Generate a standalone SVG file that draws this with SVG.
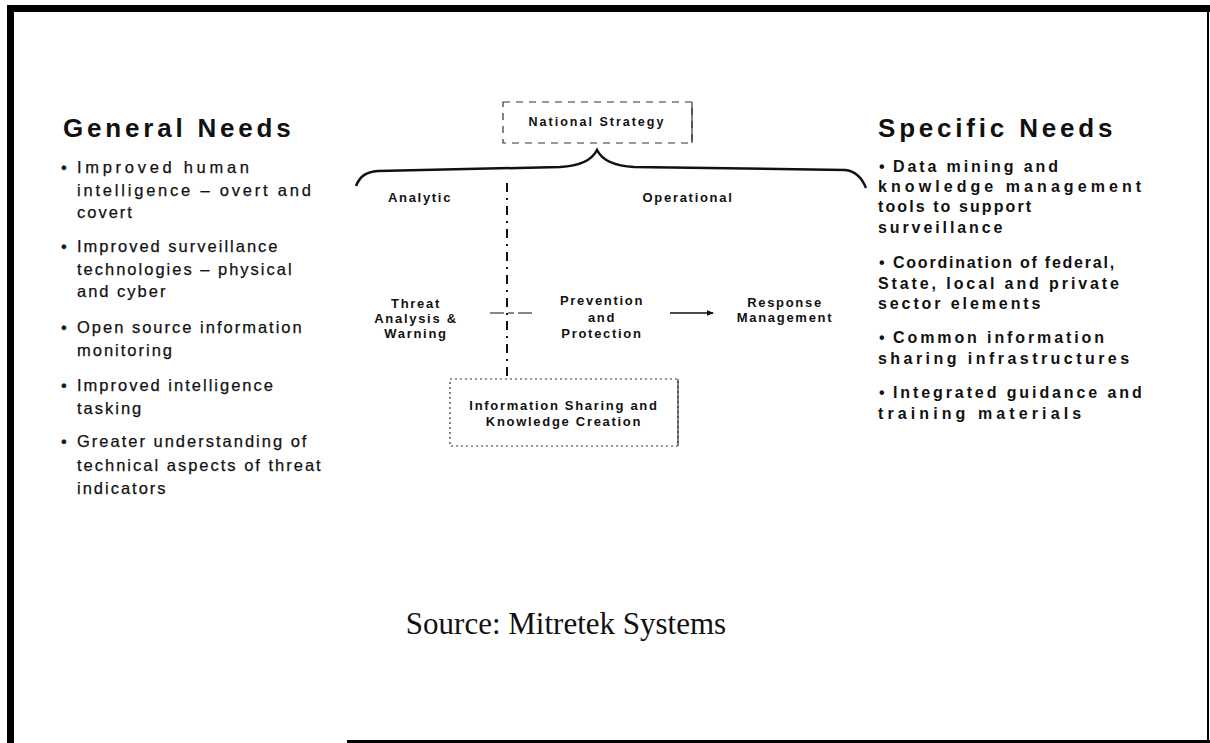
<svg xmlns="http://www.w3.org/2000/svg" width="1210" height="743" viewBox="0 0 1210 743">
  <style>
    .head { font-family: "Liberation Sans", Arial, sans-serif; font-weight: bold; font-size: 26px; letter-spacing: 3.8px; fill: #111; }
    .gen { font-family: "Liberation Sans", Arial, sans-serif; font-size: 16.5px; letter-spacing: 2px; fill: #111; stroke: #111; stroke-width: 0.25; }
    .spec { font-family: "Liberation Sans", Arial, sans-serif; font-weight: bold; font-size: 16px; letter-spacing: 2.9px; fill: #111; }
    .lbl { font-family: "Liberation Sans", Arial, sans-serif; font-weight: bold; font-size: 13px; letter-spacing: 1.7px; fill: #111; text-anchor: middle; }
    .src { font-family: "Liberation Serif", "Times New Roman", serif; font-size: 31px; fill: #111; text-anchor: middle; }
    .box { fill: none; stroke: #333; stroke-width: 1.2; }
    .conn { fill: none; stroke: #111; }
  </style>
  <defs>
    <marker id="arrow" viewBox="0 0 6 6" refX="5" refY="3" markerWidth="5" markerHeight="5" orient="auto">
      <path d="M0,0.8 L6,3 L0,5.2 z" fill="#111"/>
    </marker>
  </defs>

  <rect width="1210" height="743" fill="#fff"/>

  <!-- page frame -->
  <g id="frame" fill="#000">
    <rect x="7" y="5" width="7" height="738"/>
    <rect x="7" y="5" width="1203" height="7"/>
    <rect x="1207" y="12" width="2" height="731"/>
    <rect x="347" y="740" width="863" height="3"/>
  </g>

  <!-- left column -->
  <g id="general-needs">
    <text class="head" x="63" y="137">General Needs</text>
    <text class="gen" x="61" y="173">•</text>
    <text class="gen" x="77" y="173" textLength="174" lengthAdjust="spacing">Improved human</text>
    <text class="gen" x="77" y="196" textLength="236" lengthAdjust="spacing">intelligence – overt and</text>
    <text class="gen" x="77" y="218">covert</text>
    <text class="gen" x="61" y="252">•</text>
    <text class="gen" x="77" y="252">Improved surveillance</text>
    <text class="gen" x="77" y="275">technologies – physical</text>
    <text class="gen" x="77" y="297">and cyber</text>
    <text class="gen" x="61" y="333">•</text>
    <text class="gen" x="77" y="333">Open source information</text>
    <text class="gen" x="77" y="356">monitoring</text>
    <text class="gen" x="61" y="391">•</text>
    <text class="gen" x="77" y="391">Improved intelligence</text>
    <text class="gen" x="77" y="414">tasking</text>
    <text class="gen" x="61" y="447">•</text>
    <text class="gen" x="77" y="447">Greater understanding of</text>
    <text class="gen" x="77" y="471">technical aspects of threat</text>
    <text class="gen" x="77" y="494">indicators</text>
  </g>

  <!-- right column -->
  <g id="specific-needs">
    <text class="head" x="878" y="137">Specific Needs</text>
    <text class="spec" x="879" y="172">•</text>
    <text class="spec" x="893" y="172">Data mining and</text>
    <text class="spec" x="878" y="192" textLength="266" lengthAdjust="spacing">knowledge management</text>
    <text class="spec" x="878" y="212" textLength="156" lengthAdjust="spacing">tools to support</text>
    <text class="spec" x="878" y="233">surveillance</text>
    <text class="spec" x="879" y="268">•</text>
    <text class="spec" x="893" y="268" textLength="224" lengthAdjust="spacing">Coordination of federal,</text>
    <text class="spec" x="878" y="289">State, local and private</text>
    <text class="spec" x="878" y="309">sector elements</text>
    <text class="spec" x="879" y="343">•</text>
    <text class="spec" x="893" y="343">Common information</text>
    <text class="spec" x="878" y="364" textLength="254" lengthAdjust="spacing">sharing infrastructures</text>
    <text class="spec" x="879" y="398">•</text>
    <text class="spec" x="893" y="398">Integrated guidance and</text>
    <text class="spec" x="878" y="419" textLength="206" lengthAdjust="spacing">training materials</text>
  </g>

  <!-- centre diagram nodes -->
  <g id="national-strategy">
    <rect class="box" x="503" y="102" width="189" height="41" stroke-dasharray="7 6"/>
    <line x1="692" y1="102" x2="692" y2="143" stroke="#333" stroke-width="1.2"/>
    <text class="lbl" x="597" y="126" style="font-size:12.5px;letter-spacing:2px">National Strategy</text>
  </g>
  <g id="analytic">
    <text class="lbl" x="420" y="202">Analytic</text>
  </g>
  <g id="operational">
    <text class="lbl" x="688" y="202">Operational</text>
  </g>
  <g id="threat-analysis">
    <text class="lbl" x="416" y="308">Threat</text>
    <text class="lbl" x="416" y="323">Analysis &amp;</text>
    <text class="lbl" x="416" y="338">Warning</text>
  </g>
  <g id="prevention">
    <text class="lbl" x="602" y="305">Prevention</text>
    <text class="lbl" x="602" y="322">and</text>
    <text class="lbl" x="602" y="338">Protection</text>
  </g>
  <g id="response">
    <text class="lbl" x="785" y="307">Response</text>
    <text class="lbl" x="785" y="322">Management</text>
  </g>
  <g id="information-sharing">
    <rect class="box" x="450" y="379" width="228" height="67" stroke-dasharray="2 3" stroke="#666"/>
    <line x1="678" y1="379" x2="678" y2="446" stroke="#333" stroke-width="1.2"/>
    <text class="lbl" x="564" y="410">Information Sharing and</text>
    <text class="lbl" x="564" y="426">Knowledge Creation</text>
  </g>

  <!-- connectors -->
  <g id="connectors">
    <path class="conn" stroke-width="2.5" d="M356,186 C360,176 366,172 378,171 L560,167 C580,166 592,160 597,150 C602,160 614,166 634,167 L845,170 C855,171 862,178 866,188"/>
    <line class="conn" x1="507" y1="183" x2="507" y2="378" stroke-width="2" stroke-dasharray="9 6 2 6"/>
    <line class="conn" x1="490" y1="313" x2="533" y2="313" stroke-width="1.2" stroke-dasharray="14 4 6 4"/>
    <line class="conn" x1="670" y1="313" x2="713" y2="313" stroke-width="1.5" marker-end="url(#arrow)"/>
  </g>

  <text class="src" x="566" y="634">Source: Mitretek Systems</text>
</svg>
